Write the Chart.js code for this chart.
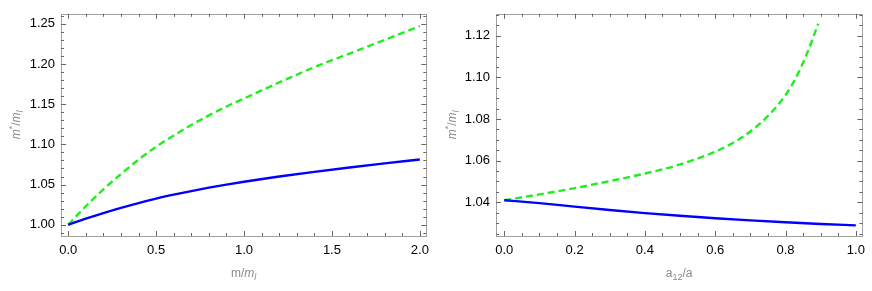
<!DOCTYPE html>
<html>
<head>
<meta charset="utf-8">
<script src="https://cdn.jsdelivr.net/npm/chart.js@4/dist/chart.umd.min.js"></script>
<style>
  html, body { margin: 0; padding: 0; background: #fff; }
  #wrap { position: relative; width: 872px; height: 291px; }
  canvas { position: absolute; top: 0; }
</style>
</head>
<body>
<div id="wrap">
  <canvas id="c1" width="436" height="291" style="left:0px"></canvas>
  <canvas id="c2" width="436" height="291" style="left:436px"></canvas>
</div>
<script>
// ---------- data ----------
const leftX      = [0, 0.1, 0.2, 0.3, 0.4, 0.5, 0.6, 0.7, 0.8, 0.9, 1.0, 1.2, 1.4, 1.6, 1.8, 2.0];
const leftBlue   = [1.000, 1.0075, 1.0145, 1.0210, 1.0270, 1.0325, 1.0374, 1.0419, 1.0461, 1.0499, 1.0535, 1.0600, 1.0658, 1.0712, 1.0763, 1.0812];
const leftGreen  = [1.000, 1.023, 1.044, 1.063, 1.081, 1.097, 1.111, 1.124, 1.136, 1.147, 1.157, 1.177, 1.196, 1.213, 1.230, 1.247];

const rightX      = [0, 0.1, 0.2, 0.3, 0.4, 0.5, 0.6, 0.7, 0.8, 0.9, 1.0];
const rightBlue   = [1.041, 1.0396, 1.0379, 1.0363, 1.0348, 1.0335, 1.0323, 1.0313, 1.0304, 1.0296, 1.0289];
const rightGreenX = [0, 0.1, 0.2, 0.3, 0.4, 0.5, 0.6, 0.65, 0.7, 0.75, 0.8, 0.83, 0.86, 0.893];
const rightGreen  = [1.041, 1.0438, 1.0468, 1.0502, 1.0538, 1.0582, 1.0643, 1.0685, 1.0740, 1.0815, 1.0915, 1.1000, 1.1110, 1.1258];

const leftXTicks  = [0, 0.5, 1.0, 1.5, 2.0];
const leftYTicks  = [1.00, 1.05, 1.10, 1.15, 1.20, 1.25];
const rightXTicks = [0, 0.2, 0.4, 0.6, 0.8, 1.0];
const rightYTicks = [1.04, 1.06, 1.08, 1.10, 1.12];

// ---------- styling ----------
const BLUE = '#0000ff';
const GREEN = '#1ef01e';
const FONT = "'Liberation Sans', Arial, sans-serif";
const TITLE_COLOR = '#8a8a8a';

function pts(xs, ys) { return xs.map((x, i) => ({ x: x, y: ys[i] })); }

function framePlugin(opts) {
  return {
    id: 'frame' + opts.id,
    afterDraw(chart) {
      const ctx = chart.ctx;
      const a = chart.chartArea;
      const xs = chart.scales.x, ys = chart.scales.y;
      ctx.save();
      ctx.strokeStyle = '#a0a0a0';
      ctx.lineWidth = 1;
      ctx.strokeRect(Math.round(a.left) + 0.5, Math.round(a.top) + 0.5,
                     Math.round(a.right - a.left), Math.round(a.bottom - a.top));
      ctx.strokeStyle = '#666666';
      ctx.beginPath();
      function xTick(v, len) {
        const px = Math.round(xs.getPixelForValue(v)) + 0.5;
        ctx.moveTo(px, a.bottom); ctx.lineTo(px, a.bottom - len);
        ctx.moveTo(px, a.top); ctx.lineTo(px, a.top + len);
      }
      function yTick(v, len) {
        const py = Math.round(ys.getPixelForValue(v)) + 0.5;
        ctx.moveTo(a.left, py); ctx.lineTo(a.left + len, py);
        ctx.moveTo(a.right, py); ctx.lineTo(a.right - len, py);
      }
      const xm = opts.xTicks, ym = opts.yTicks;
      const xStep = (xm[1] - xm[0]) / opts.xSub, yStep = (ym[1] - ym[0]) / opts.ySub;
      for (let i = 0; i < xm.length; i++) {
        xTick(xm[i], 5);
        if (i < xm.length - 1) for (let k = 1; k < opts.xSub; k++) xTick(xm[i] + k * xStep, 3);
      }
      for (let i = 0; i < ym.length; i++) {
        yTick(ym[i], 5);
        for (let k = 1; k < opts.ySub; k++) {
          const v = ym[i] + k * yStep;
          if (v < ys.max) yTick(v, 3);
        }
        if (i === 0) for (let k = 1; k < opts.ySub; k++) {
          const v = ym[0] - k * yStep;
          if (v > ys.min) yTick(v, 3);
        }
      }
      ctx.stroke();

      ctx.fillStyle = TITLE_COLOR;
      ctx.textBaseline = 'alphabetic';
      drawRich(ctx, opts.xTitle, (a.left + a.right) / 2, 277, 0);
      drawRich(ctx, opts.yTitle, 20, (a.top + a.bottom) / 2, -Math.PI / 2);
      ctx.restore();
    }
  };
}

function segFont(s) {
  const size = (s.sub || s.sup) ? 9 : 12;
  return (s.italic ? 'italic ' : '') + size + 'px ' + FONT;
}
function drawRich(ctx, segs, cx, cy, rot) {
  let w = 0;
  segs.forEach(s => { ctx.font = segFont(s); w += ctx.measureText(s.t).width; });
  ctx.save();
  ctx.translate(cx, cy);
  ctx.rotate(rot);
  let x = -w / 2;
  segs.forEach(s => {
    ctx.font = segFont(s);
    const dy = s.sub ? 3 : (s.sup ? -5 : 0);
    ctx.fillText(s.t, x, dy);
    x += ctx.measureText(s.t).width;
  });
  ctx.restore();
}

function makeChart(id, cfg) {
  return new Chart(document.getElementById(id), {
    type: 'scatter',
    data: {
      datasets: [
        { data: cfg.blue, showLine: true, borderColor: BLUE, borderWidth: 2.4,
          pointRadius: 0, cubicInterpolationMode: 'monotone', fill: false },
        { data: cfg.green, showLine: true, borderColor: GREEN, borderWidth: 2.4,
          borderDash: [7, 4], pointRadius: 0, cubicInterpolationMode: 'monotone', fill: false }
      ]
    },
    options: {
      responsive: false,
      animation: false,
      devicePixelRatio: 1,
      layout: { padding: { top: 7, right: 8, left: 0, bottom: 0 } },
      plugins: { legend: { display: false }, tooltip: { enabled: false } },
      scales: {
        x: {
          type: 'linear', min: cfg.xMin, max: cfg.xMax,
          grid: { display: false, drawTicks: false },
          border: { display: false },
          afterBuildTicks: s => { s.ticks = cfg.xTicks.map(v => ({ value: v })); },
          afterFit: s => { s.height = 55; },
          ticks: { color: '#000', font: { family: FONT, size: 13 }, padding: 7,
                   maxRotation: 0, autoSkip: false,
                   callback: v => Number(v).toFixed(1) }
        },
        y: {
          type: 'linear', min: cfg.yMin, max: cfg.yMax,
          grid: { display: false, drawTicks: false },
          border: { display: false },
          afterBuildTicks: s => { s.ticks = cfg.yTicks.map(v => ({ value: v })); },
          afterFit: s => { s.width = cfg.yWidth; },
          ticks: { color: '#000', font: { family: FONT, size: 13 }, padding: 6,
                   autoSkip: false,
                   callback: v => Number(v).toFixed(2) }
        }
      }
    },
    plugins: [framePlugin(cfg)]
  });
}

makeChart('c1', {
  id: 1,
  blue: pts(leftX, leftBlue), green: pts(leftX, leftGreen),
  xMin: -0.041, xMax: 2.037, yMin: 0.986, yMax: 1.2624,
  xTicks: leftXTicks, yTicks: leftYTicks, xSub: 5, ySub: 5, yWidth: 61,
  xTitle: [{ t: 'm/' }, { t: 'm', italic: true }, { t: 'l', italic: true, sub: true }],
  yTitle: [{ t: 'm', italic: true }, { t: '*', sup: true }, { t: '/' }, { t: 'm', italic: true }, { t: 'l', italic: true, sub: true }]
});

makeChart('c2', {
  id: 2,
  blue: pts(rightX, rightBlue), green: pts(rightGreenX, rightGreen),
  xMin: -0.0235, xMax: 1.0187, yMin: 1.0238, yMax: 1.1306,
  xTicks: rightXTicks, yTicks: rightYTicks, xSub: 4, ySub: 4, yWidth: 60,
  xTitle: [{ t: 'a' }, { t: '12', sub: true }, { t: '/a' }],
  yTitle: [{ t: 'm', italic: true }, { t: '*', sup: true }, { t: '/' }, { t: 'm', italic: true }, { t: 'l', italic: true, sub: true }]
});
</script>
</body>
</html>
